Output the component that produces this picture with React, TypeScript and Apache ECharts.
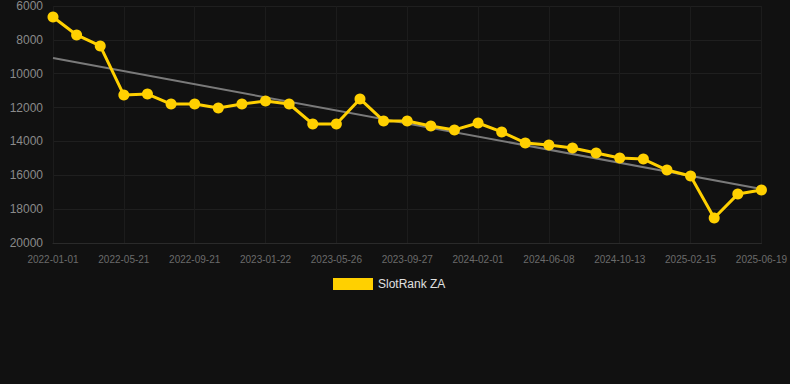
import React, { useEffect, useRef } from "react";
import * as echarts from "echarts";

const dates = [
  "2022-01-01", "2022-02-16", "2022-04-04", "2022-05-21", "2022-06-21", "2022-07-22",
  "2022-09-21", "2022-10-31", "2022-12-12", "2023-01-22", "2023-03-05", "2023-04-15",
  "2023-05-26", "2023-07-06", "2023-08-16", "2023-09-27", "2023-11-07", "2023-12-20",
  "2024-02-01", "2024-03-13", "2024-04-26", "2024-06-08", "2024-07-20", "2024-09-01",
  "2024-10-13", "2024-11-23", "2025-01-04", "2025-02-15", "2025-03-28", "2025-05-09",
  "2025-06-19",
];

const rankValues = [
  6650, 7710, 8360, 11260, 11200, 11790, 11790, 12030, 11790, 11610, 11790, 12970,
  12970, 11490, 12790, 12790, 13090, 13320, 12910, 13440, 14090, 14210, 14390, 14680,
  14980, 15040, 15690, 16040, 18520, 17110, 16870,
];

// trend line end points
const trendStart = 9070;
const trendEnd = 16810;

const yTicks = { min: 6000, max: 20000, interval: 2000 };

export default function App() {
  const ref = useRef<HTMLDivElement>(null);
  useEffect(() => {
    document.body.style.margin = "0";
    document.body.style.background = "#111111";
    const chart = echarts.init(ref.current!, null, { renderer: "svg" });
    const trendData = dates.map((_, i) =>
      i === 0 ? trendStart : i === dates.length - 1 ? trendEnd : null
    );
    chart.setOption({
      animation: false,
      backgroundColor: "#111111",
      grid: { left: 53, right: 28, top: 6, bottom: 141, containLabel: false },
      legend: {
        left: 328,
        top: 273,
        itemWidth: 40,
        itemHeight: 12,
        itemGap: 10,
        data: [{ name: "SlotRank ZA", icon: "rect" }],
        textStyle: { color: "#e0e0e0", fontSize: 12, fontFamily: "Arial, Liberation Sans, sans-serif" },
      },
      xAxis: {
        type: "category",
        data: dates,
        boundaryGap: false,
        axisLine: { show: true, lineStyle: { color: "#2a2a2a" } },
        axisTick: { show: false },
        axisLabel: {
          interval: 2,
          color: "#6b6b6b",
          fontSize: 10,
          margin: 11,
          fontFamily: "Arial, Liberation Sans, sans-serif",
        },
        splitLine: { show: true, interval: 2, lineStyle: { color: "#1c1c1c", width: 1 } },
      },
      yAxis: {
        type: "value",
        inverse: true,
        min: yTicks.min,
        max: yTicks.max,
        interval: yTicks.interval,
        axisLine: { show: false },
        axisTick: { show: false },
        axisLabel: {
          color: "#8a8a8a",
          fontSize: 12,
          margin: 10,
          formatter: (v: number) => String(v),
          fontFamily: "Arial, Liberation Sans, sans-serif",
        },
        splitLine: { show: true, lineStyle: { color: "#1f1f1f", width: 1 } },
      },
      series: [
        {
          name: "Trend",
          type: "line",
          data: trendData,
          connectNulls: true,
          showSymbol: false,
          symbol: "none",
          lineStyle: { color: "#7a7a7a", width: 2 },
          itemStyle: { color: "#7a7a7a" },
          z: 1,
          silent: true,
        },
        {
          name: "SlotRank ZA",
          type: "line",
          data: rankValues,
          symbol: "circle",
          symbolSize: 11,
          lineStyle: { color: "#ffd000", width: 3 },
          itemStyle: { color: "#ffd000" },
          z: 2,
        },
      ],
    });
    return () => chart.dispose();
  }, []);
  return <div ref={ref} style={{ width: 790, height: 384 }} />;
}
